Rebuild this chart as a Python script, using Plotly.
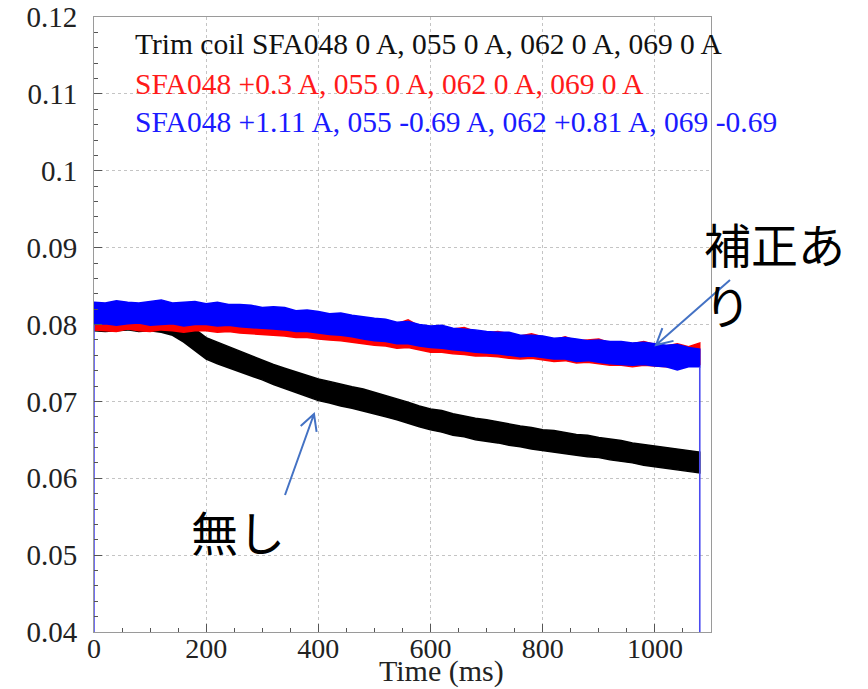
import math
import plotly.graph_objects as go

# ---- data: envelope (upper / lower edge) of each noisy trace, sampled every 20 ms ----
TIME_MS = list(range(0, 1081, 20))

black_upper = [
    0.0814, 0.0813, 0.0815, 0.0814, 0.0813, 0.0814, 0.0812, 0.0809, 0.0803, 0.0794,
    0.0783, 0.0777, 0.0771, 0.0766, 0.0760,
    0.0754, 0.0748, 0.0743, 0.0738, 0.0733,
    0.0729, 0.0726, 0.0722, 0.0719, 0.0716,
    0.0712, 0.0708, 0.0703, 0.0699, 0.0694,
    0.0690, 0.0688, 0.0684, 0.0681, 0.0678,
    0.0676, 0.0673, 0.0671, 0.0668, 0.0666,
    0.0663, 0.0662, 0.0659, 0.0657, 0.0656,
    0.0653, 0.0651, 0.0649, 0.0646, 0.0644,
    0.0642, 0.0640, 0.0638, 0.0636,
    0.0634,
]
black_lower = [
    0.0792, 0.0791, 0.0792, 0.0793, 0.0791, 0.0792, 0.0790, 0.0786, 0.0777, 0.0766,
    0.0755, 0.0749, 0.0744, 0.0739, 0.0733,
    0.0728, 0.0722, 0.0717, 0.0712, 0.0706,
    0.0701, 0.0698, 0.0694, 0.0691, 0.0687,
    0.0684, 0.0680, 0.0676, 0.0671, 0.0667,
    0.0663, 0.0660, 0.0656, 0.0654, 0.0650,
    0.0648, 0.0646, 0.0643, 0.0641, 0.0638,
    0.0636, 0.0634, 0.0632, 0.0630, 0.0628,
    0.0627, 0.0624, 0.0622, 0.0620, 0.0617,
    0.0615, 0.0613, 0.0611, 0.0609,
    0.0607,
]

red_upper = [
    0.0825, 0.0824, 0.0826, 0.0825, 0.0824, 0.0826, 0.0827, 0.0824, 0.0825, 0.0826,
    0.0824, 0.0825, 0.0822, 0.0823, 0.0822,
    0.0819, 0.0820, 0.0819, 0.0816, 0.0816,
    0.0814, 0.0812, 0.0813, 0.0810, 0.0808,
    0.0806, 0.0805, 0.0801, 0.0806, 0.0798,
    0.0796, 0.0797, 0.0794, 0.0796, 0.0791,
    0.0789, 0.0791, 0.0788, 0.0785, 0.0788,
    0.0784, 0.0780, 0.0784, 0.0779, 0.0780,
    0.0781, 0.0776, 0.0777, 0.0775, 0.0778,
    0.0774, 0.0772, 0.0775, 0.0771,
    0.0776,
]
red_lower = [
    0.0793, 0.0792, 0.0791, 0.0794, 0.0792, 0.0791, 0.0793, 0.0792, 0.0790, 0.0792,
    0.0792, 0.0790, 0.0791, 0.0789, 0.0788,
    0.0787, 0.0786, 0.0785, 0.0783, 0.0783,
    0.0781, 0.0780, 0.0779, 0.0777, 0.0775,
    0.0773, 0.0772, 0.0769, 0.0770, 0.0767,
    0.0764, 0.0764, 0.0762, 0.0761, 0.0759,
    0.0759, 0.0758, 0.0756, 0.0755, 0.0756,
    0.0754, 0.0752, 0.0753, 0.0750, 0.0751,
    0.0749, 0.0747, 0.0747, 0.0745, 0.0747,
    0.0746, 0.0745, 0.0744, 0.0746,
    0.0748,
]

blue_upper = [
    0.0829, 0.0828, 0.0831, 0.0829, 0.0828, 0.0830, 0.0832, 0.0828, 0.0829, 0.0830,
    0.0827, 0.0829, 0.0826, 0.0826, 0.0825,
    0.0822, 0.0823, 0.0822, 0.0818, 0.0819,
    0.0817, 0.0814, 0.0815, 0.0812, 0.0810,
    0.0808, 0.0807, 0.0803, 0.0804, 0.0800,
    0.0798, 0.0799, 0.0795, 0.0794, 0.0793,
    0.0791, 0.0790, 0.0790, 0.0786, 0.0786,
    0.0785, 0.0782, 0.0783, 0.0781, 0.0779,
    0.0780, 0.0778, 0.0778, 0.0776, 0.0777,
    0.0775, 0.0773, 0.0774, 0.0770,
    0.0768,
]
blue_lower = [
    0.0800, 0.0801, 0.0799, 0.0801, 0.0802, 0.0799, 0.0800, 0.0801, 0.0798, 0.0800,
    0.0800, 0.0798, 0.0799, 0.0797, 0.0796,
    0.0795, 0.0794, 0.0793, 0.0791, 0.0791,
    0.0789, 0.0787, 0.0786, 0.0784, 0.0781,
    0.0779, 0.0778, 0.0775, 0.0775, 0.0772,
    0.0770, 0.0769, 0.0767, 0.0766, 0.0764,
    0.0763, 0.0762, 0.0760, 0.0758, 0.0759,
    0.0757, 0.0755, 0.0755, 0.0752, 0.0753,
    0.0751, 0.0749, 0.0748, 0.0747, 0.0748,
    0.0746, 0.0745, 0.0741, 0.0745,
    0.0745,
]

# signal level before the start and after the end of the record
BLUE_OFF_LEVEL = 0.0

Y_TICKS = [0.04, 0.05, 0.06, 0.07, 0.08, 0.09, 0.10, 0.11, 0.12]
Y_TICK_LABELS = ["0.04", "0.05", "0.06", "0.07", "0.08", "0.09", "0.1", "0.11", "0.12"]
X_TICKS = [0, 200, 400, 600, 800, 1000]
X_TITLE = "Time (ms)"

LEGEND_LINES = [
    ("Trim coil SFA048 0 A, 055 0 A, 062 0 A, 069 0 A", "#111111"),
    ("SFA048 +0.3 A, 055 0 A, 062 0 A, 069 0 A", "#ff1a1a"),
    ("SFA048 +1.11 A, 055 -0.69 A, 062 +0.81 A, 069 -0.69", "#1a1aff"),
]

# ---- layout geometry (pixels) ----
W, H = 868, 689
PLOT_L, PLOT_T, PLOT_R, PLOT_B = 94, 17, 711, 632
SERIF = "Liberation Serif, Times New Roman, serif"
CJK = "Noto Sans CJK JP"
ARROW_COLOR = "#4472C4"


def to_paper(xp, yp):
    return ((xp - PLOT_L) / (PLOT_R - PLOT_L), (PLOT_B - yp) / (PLOT_B - PLOT_T))


def band(upper, lower, color):
    xs = TIME_MS + TIME_MS[::-1]
    ys = upper + lower[::-1]
    return go.Scatter(
        x=xs, y=ys, mode="lines", fill="toself", fillcolor=color,
        line=dict(color=color, width=1.5), hoverinfo="skip", showlegend=False,
    )


fig = go.Figure()
fig.add_trace(band(black_upper, black_lower, "#000000"))
fig.add_trace(band(red_upper, red_lower, "#ff0000"))
fig.add_trace(band(blue_upper, blue_lower, "#0000ff"))

# blue record switching on at t=0 and off at the end
for xi, yi in ((TIME_MS[0], blue_lower[0]), (TIME_MS[-1], blue_lower[-1])):
    fig.add_trace(go.Scatter(
        x=[xi, xi], y=[BLUE_OFF_LEVEL, yi], mode="lines",
        line=dict(color="#4b4bf0", width=1.6), hoverinfo="skip", showlegend=False,
    ))

annotations = []
for (text, color), yp in zip(LEGEND_LINES, (44, 84, 122)):
    px_, py_ = to_paper(133, yp)
    annotations.append(dict(
        xref="paper", yref="paper", x=px_, y=py_, xanchor="left", yanchor="middle",
        text=text, showarrow=False, font=dict(family=SERIF, size=29.5, color=color),
    ))

for text, (xp, yp) in (("補正あ<br>り", (702, 273)), ("無し", (189, 530))):
    px_, py_ = to_paper(xp, yp)
    annotations.append(dict(
        xref="paper", yref="paper", x=px_, y=py_, xanchor="left", yanchor="middle",
        align="left", text=text, showarrow=False,
        font=dict(family=CJK, size=47, color="#000000"),
    ))

tx, ty = to_paper(442, 671)
annotations.append(dict(
    xref="paper", yref="paper", x=tx, y=ty, xanchor="center", yanchor="middle",
    text=X_TITLE, showarrow=False, font=dict(family=SERIF, size=30, color="#222222"),
))


def arrow_path(tail, head, wing=18, spread=28):
    ang = math.atan2(tail[1] - head[1], tail[0] - head[0])
    pts = []
    for s in (-1, 1):
        a = ang + s * math.radians(spread)
        pts.append((head[0] + wing * math.cos(a), head[1] + wing * math.sin(a)))
    t = to_paper(*tail)
    h = to_paper(*head)
    w1 = to_paper(*pts[0])
    w2 = to_paper(*pts[1])
    return (f"M {t[0]},{t[1]} L {h[0]},{h[1]} "
            f"M {w1[0]},{w1[1]} L {h[0]},{h[1]} L {w2[0]},{w2[1]}")


shapes = [
    dict(type="path", xref="paper", yref="paper", path=arrow_path((730, 280), (656, 345)),
         line=dict(color=ARROW_COLOR, width=2)),
    dict(type="path", xref="paper", yref="paper", path=arrow_path((285, 495), (314, 414)),
         line=dict(color=ARROW_COLOR, width=2)),
]

axis_common = dict(
    showline=True, linecolor="#9a9a9a", linewidth=1, mirror=True,
    ticks="inside", tickcolor="#555555", ticklen=8, tickwidth=1,
    showgrid=True, gridcolor="#c4c4c4", griddash="dot", gridwidth=1,
    zeroline=False, automargin=False,
)

fig.update_layout(
    width=W, height=H,
    margin=dict(l=PLOT_L, r=W - PLOT_R, t=PLOT_T, b=H - PLOT_B),
    paper_bgcolor="white", plot_bgcolor="white",
    showlegend=False,
    annotations=annotations, shapes=shapes,
    xaxis=dict(
        range=[0, 1100], tickvals=X_TICKS, ticklabelstandoff=-9,
        tickfont=dict(family=SERIF, size=28, color="#222222"),
        minor=dict(dtick=50, ticks="inside", ticklen=4, tickcolor="#555555", showgrid=False),
        **axis_common,
    ),
    yaxis=dict(
        range=[0.04, 0.12], tickvals=Y_TICKS, ticktext=Y_TICK_LABELS, ticklabelstandoff=10,
        tickfont=dict(family=SERIF, size=29, color="#222222"),
        minor=dict(dtick=0.002, ticks="inside", ticklen=4, tickcolor="#555555", showgrid=False),
        **axis_common,
    ),
)

fig.write_html("out.html")
